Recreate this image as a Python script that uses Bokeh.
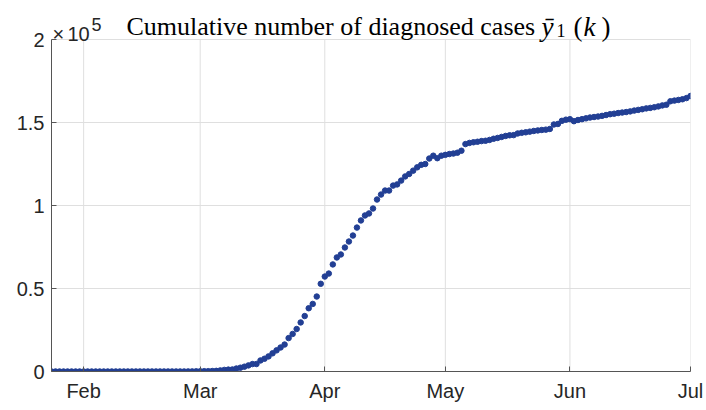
import datetime as dt
from bokeh.plotting import figure
from bokeh.models import FixedTicker, DatetimeTickFormatter, Label, Range1d
from bokeh.embed import file_html
from bokeh.resources import INLINE

start_date = dt.datetime(2020, 1, 24)
end_date = dt.datetime(2020, 7, 1)

cases_jan = [2, 3, 3, 3, 4, 5, 5, 5]
cases_feb = [6, 6, 6, 6, 6, 6, 6, 11, 11, 11, 11, 11, 11, 11, 12, 12, 12, 12, 12, 12,
             12, 12, 12, 12, 14, 18, 38, 57, 100]
cases_mar = [130, 191, 204, 288, 380, 656, 957, 1134, 1217, 1792, 2289, 2903, 3672, 4480,
             4513, 6650, 7683, 9105, 10947, 12726, 14463, 16243, 20123, 22622, 25600, 29551,
             33402, 38105, 40708, 45170, 52827]
cases_apr = [57200, 59000, 64500, 68700, 70500, 74700, 78300, 81900, 86700, 91000, 94000,
             95200, 98200, 103600, 106600, 109000, 109000, 112000, 112700, 115000, 117500,
             119000, 121000, 123000, 124500, 125000, 128300, 130000, 128500, 130000]
cases_may = [130500, 131000, 131300, 131800, 133000, 137000, 137700, 138100, 138400, 138800,
             139000, 139500, 140200, 140700, 141300, 141900, 142300, 142400, 143400, 143800,
             144100, 144500, 144900, 145200, 145500, 145700, 146100, 148800, 149100, 151000,
             151700]
cases_jun = [152000, 150800, 151500, 152000, 152500, 153000, 153300, 153600, 154000, 154500,
             155000, 155300, 155700, 156000, 156300, 156700, 157200, 157600, 158000, 158500,
             158800, 159200, 159700, 160300, 160700, 162800, 163200, 163600, 164000, 164700]
cases_jul = [166000]

month_ticks = [dt.datetime(2020, m, 1) for m in range(2, 8)]
y_ticks = [0, 50000, 100000, 150000, 200000]
y_tick_labels = ["0", "0.5", "1", "1.5", "2"]

cases = cases_jan + cases_feb + cases_mar + cases_apr + cases_may + cases_jun + cases_jul
dates = [start_date + dt.timedelta(days=i) for i in range(len(cases))]

def ms(d):
    return (d - dt.datetime(1970, 1, 1)).total_seconds() * 1000.0

# layout: axes box from y=39 to y=371 px; the frame extends to the top of the canvas
# so the title texts above the box are not clipped.
W, H = 706, 410
left, right, bottom = 51, 16, 39
box_top = 39
frame_h = H - bottom
y_top = y_ticks[-1] * frame_h / (frame_h - box_top)

p = figure(width=W, height=H, x_axis_type="datetime",
           output_backend="svg", toolbar_location=None,
           x_range=Range1d(ms(start_date), ms(end_date)),
           y_range=Range1d(0, y_top),
           min_border_left=left, min_border_right=right, min_border_top=0,
           min_border_bottom=bottom)
p.outline_line_color = None
p.background_fill_color = "white"
p.border_fill_color = "white"

grid_color = "#dfdfdf"
axis_color = "#555555"

# vertical grid lines (limited to the axes box)
p.segment(x0=month_ticks, y0=[y_ticks[0]] * len(month_ticks),
          x1=month_ticks, y1=[y_ticks[-1]] * len(month_ticks),
          line_color=grid_color, line_width=1)
p.xgrid.visible = False
p.ygrid.grid_line_color = grid_color
p.ygrid.grid_line_width = 1

p.scatter(dates, cases, size=5.5, color="#223f94", line_color="#223f94")

p.xaxis.ticker = FixedTicker(ticks=[ms(d) for d in month_ticks])
p.xaxis.formatter = DatetimeTickFormatter(days="%b", months="%b", years="%b",
                                          hours="%b", minutes="%b", seconds="%b",
                                          milliseconds="%b", microseconds="%b",
                                          context=None)
p.yaxis.ticker = FixedTicker(ticks=y_ticks)
p.yaxis.major_label_overrides = {t: l for t, l in zip(y_ticks, y_tick_labels)}
p.yaxis.bounds = (y_ticks[0], y_ticks[-1])

for ax in (p.xaxis, p.yaxis):
    ax.axis_line_color = axis_color
    ax.major_tick_line_color = axis_color
    ax.major_tick_in = 5
    ax.major_tick_out = 0
    ax.minor_tick_line_color = None
    ax.major_label_text_font = "Liberation Sans"
    ax.major_label_text_font_size = "20px"
    ax.major_label_text_color = "#262626"
p.xaxis.major_label_standoff = 8
p.yaxis.major_label_standoff = 7

x0 = ms(start_date)
sans, serif = "Liberation Sans", "Liberation Serif"
labels = [
    dict(dx=1, dy=6, text="×", font=sans, size="20px", style="normal", color="#262626"),
    dict(dx=16, dy=6, text="10", font=sans, size="20px", style="normal", color="#262626"),
    dict(dx=40, dy=15, text="5", font=sans, size="18px", style="normal", color="#262626"),
    dict(dx=75, dy=13, text="Cumulative number of diagnosed cases", font=serif,
         size="26px", style="normal", color="black"),
    dict(dx=490, dy=13, text="ȳ", font=serif, size="27px", style="italic", color="black"),
    dict(dx=505, dy=9, text="1", font=serif, size="18px", style="normal", color="black"),
    dict(dx=522, dy=13, text="(", font=serif, size="27px", style="normal", color="black"),
    dict(dx=532, dy=13, text="k", font=serif, size="27px", style="italic", color="black"),
    dict(dx=550, dy=13, text=")", font=serif, size="27px", style="normal", color="black"),
]
for d in labels:
    p.add_layout(Label(x=x0, y=y_ticks[-1], x_offset=d["dx"], y_offset=d["dy"], text=d["text"],
                       text_font=d["font"], text_font_size=d["size"], text_font_style=d["style"],
                       text_color=d["color"], text_baseline="alphabetic"))

open("out.html", "w").write(file_html(p, INLINE))
